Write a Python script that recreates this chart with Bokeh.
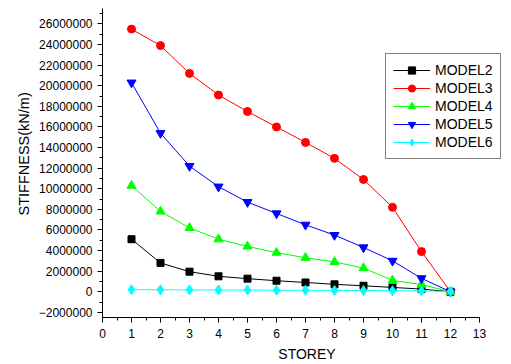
from bokeh.plotting import figure
from bokeh.models import FixedTicker, BasicTickFormatter, Range1d, Legend, Title
from bokeh.embed import file_html
from bokeh.resources import INLINE

storey = [1, 2, 3, 4, 5, 6, 7, 8, 9, 10, 11, 12]
model2 = [5100000, 2800000, 1950000, 1500000, 1270000, 1070000, 900000, 720000, 580000, 420000, 260000, 0]
model3 = [25500000, 23900000, 21200000, 19100000, 17500000, 16000000, 14500000, 12950000, 10900000, 8200000, 3900000, 0]
model4 = [10300000, 7800000, 6200000, 5100000, 4400000, 3800000, 3300000, 2900000, 2300000, 1100000, 700000, 0]
model5 = [20300000, 15400000, 12200000, 10200000, 8700000, 7600000, 6500000, 5500000, 4300000, 3000000, 1300000, 0]
model6 = [200000, 190000, 180000, 170000, 160000, 150000, 140000, 130000, 120000, 100000, 80000, 30000]

y_ticks = list(range(-2000000, 26000001, 2000000))
y_minor = list(range(-2000000, 27000001, 1000000))
x_ticks = list(range(0, 14))
x_minor = [i * 0.5 for i in range(0, 27)]

FONT = "Liberation Sans"

p = figure(width=511, height=364, output_backend="svg", toolbar_location=None,
           x_range=Range1d(0, 13 + 32 / 29), y_range=Range1d(-2500000, 27500000),
           min_border_left=102, min_border_right=0, min_border_top=8, min_border_bottom=47)
p.outline_line_color = None
p.xgrid.visible = False
p.ygrid.visible = False
p.background_fill_color = "white"
p.border_fill_color = "white"

for ax in (p.xaxis[0], p.yaxis[0]):
    ax.axis_line_color = "black"
    ax.major_tick_line_color = "black"
    ax.minor_tick_line_color = "black"
    ax.major_tick_out = 5
    ax.major_tick_in = 0
    ax.minor_tick_out = 3
    ax.minor_tick_in = 0
    ax.major_label_text_font = FONT
    ax.major_label_text_font_size = "12px"
    ax.major_label_text_color = "black"
    ax.axis_label_text_font = FONT
    ax.axis_label_text_font_size = "14px"
    ax.axis_label_text_font_style = "normal"
    ax.axis_label_text_color = "black"

p.xaxis[0].bounds = (0, 13)
p.xaxis[0].ticker = FixedTicker(ticks=x_ticks, minor_ticks=x_minor)
p.yaxis[0].ticker = FixedTicker(ticks=y_ticks, minor_ticks=y_minor)
p.yaxis[0].formatter = BasicTickFormatter(use_scientific=False)
p.xaxis[0].axis_label = "STOREY"
p.xaxis[0].major_label_standoff = 6
p.yaxis[0].major_label_standoff = 5
p.xaxis[0].axis_label_standoff = 5

ytitle = Title(text="STIFFNESS(kN/m)", align="left", offset=102, standoff=7,
               text_font=FONT, text_font_size="14.5px", text_font_style="normal",
               text_color="black")
p.add_layout(ytitle, "left")

series = [
    ("MODEL2", model2, "black", "square", 7),
    ("MODEL3", model3, "#FF0000", "circle", 8),
    ("MODEL4", model4, "#00FF00", "triangle", 9),
    ("MODEL5", model5, "#0000FF", "inverted_triangle", 9),
    ("MODEL6", model6, "#00FFFF", "diamond", 10),
]

items = []
for name, vals, color, marker, size in series:
    l = p.line(storey, vals, line_color=color, line_width=1)
    s = p.scatter(storey, vals, marker=marker, size=size, fill_color=color, line_color=color)
    items.append((name, [l, s]))

legend = Legend(items=items, location=(283, 158))
legend.border_line_color = "black"
legend.border_line_width = 1
legend.background_fill_color = "white"
legend.background_fill_alpha = 1
legend.label_text_font = FONT
legend.label_text_font_size = "14px"
legend.label_text_color = "black"
legend.glyph_width = 37
legend.glyph_height = 18
legend.label_height = 18
legend.label_standoff = 5
legend.spacing = 0
legend.padding = 7
legend.margin = 0
p.add_layout(legend)

open("out.html", "w").write(file_html(p, INLINE))
